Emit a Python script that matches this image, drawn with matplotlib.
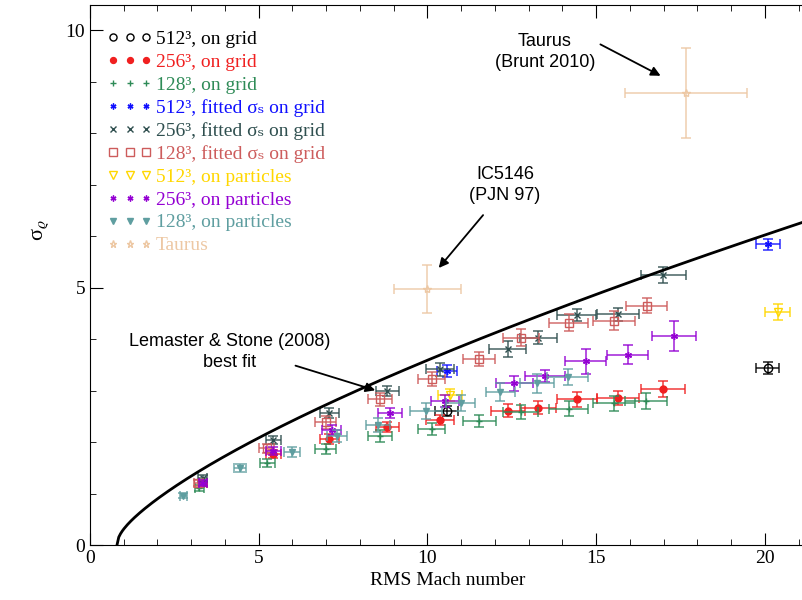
import numpy as np
import matplotlib
matplotlib.use("Agg")
import matplotlib.pyplot as plt
from matplotlib.ticker import MultipleLocator

plt.rcParams['font.family'] = ['Liberation Serif', 'DejaVu Serif']
plt.rcParams['mathtext.fontset'] = 'stix'

# 512^3 on grid
grid512_M = [10.57, 20.08]
grid512_s = [2.60, 3.44]
grid512_xe = [0.34, 0.34]
grid512_ye = [0.10, 0.11]

# 256^3 on grid
grid256_M = [3.35, 5.43, 7.09, 8.81, 10.38, 12.39, 13.28, 14.44, 15.65, 16.99]
grid256_s = [1.20, 1.77, 2.06, 2.29, 2.43, 2.61, 2.67, 2.83, 2.85, 3.03]
grid256_xe = [0.13, 0.22, 0.28, 0.35, 0.42, 0.50, 0.53, 0.59, 0.62, 0.65]
grid256_ye = [0.05, 0.08, 0.10, 0.10, 0.10, 0.12, 0.12, 0.14, 0.14, 0.15]

# 128^3 on grid
grid128_M = [3.24, 5.25, 6.98, 8.59, 10.12, 11.53, 12.76, 14.19, 15.53, 16.47]
grid128_s = [1.10, 1.59, 1.86, 2.12, 2.25, 2.41, 2.58, 2.65, 2.75, 2.80]
grid128_xe = [0.14, 0.22, 0.30, 0.36, 0.40, 0.49, 0.52, 0.58, 0.62, 0.63]
grid128_ye = [0.06, 0.08, 0.10, 0.11, 0.12, 0.12, 0.13, 0.14, 0.15, 0.15]

# 512^3 fitted sigma_s on grid
fit512_M = [10.57, 20.08]
fit512_s = [3.38, 5.84]
fit512_xe = [0.30, 0.35]
fit512_ye = [0.12, 0.10]

# 256^3 fitted sigma_s on grid
fit256_M = [3.34, 5.43, 7.09, 8.81, 10.37, 12.38, 13.28, 14.42, 15.65, 16.99]
fit256_s = [1.30, 2.04, 2.56, 2.99, 3.41, 3.81, 4.03, 4.47, 4.48, 5.24]
fit256_xe = [0.14, 0.22, 0.28, 0.35, 0.42, 0.55, 0.55, 0.58, 0.62, 0.66]
fit256_ye = [0.06, 0.08, 0.10, 0.10, 0.12, 0.15, 0.12, 0.12, 0.13, 0.16]

# 128^3 fitted sigma_s on grid
fit128_M = [3.21, 5.24, 6.98, 8.59, 10.12, 11.53, 12.77, 14.19, 15.53, 16.49]
fit128_s = [1.21, 1.88, 2.38, 2.83, 3.22, 3.61, 4.03, 4.32, 4.36, 4.65]
fit128_xe = [0.14, 0.22, 0.30, 0.36, 0.40, 0.48, 0.52, 0.58, 0.62, 0.62]
fit128_ye = [0.06, 0.09, 0.12, 0.13, 0.14, 0.14, 0.16, 0.16, 0.18, 0.15]

# 512^3 on particles
part512_M = [10.67, 20.38]
part512_s = [2.91, 4.53]
part512_xe = [0.35, 0.37]
part512_ye = [0.12, 0.15]

# 256^3 on particles
part256_M = [3.35, 5.43, 7.16, 8.89, 10.52, 12.57, 13.48, 14.69, 15.93, 17.30]
part256_s = [1.20, 1.83, 2.23, 2.57, 2.80, 3.14, 3.28, 3.57, 3.70, 4.06]
part256_xe = [0.13, 0.22, 0.28, 0.35, 0.42, 0.55, 0.59, 0.61, 0.61, 0.65]
part256_ye = [0.06, 0.08, 0.10, 0.10, 0.12, 0.15, 0.12, 0.24, 0.18, 0.30]

# 128^3 on particles
part128_M = [2.77, 4.44, 5.98, 7.31, 8.54, 9.95, 10.98, 12.15, 13.24, 14.15]
part128_s = [0.96, 1.50, 1.81, 2.12, 2.33, 2.60, 2.76, 2.97, 3.14, 3.26]
part128_xe = [0.11, 0.18, 0.24, 0.30, 0.35, 0.48, 0.42, 0.43, 0.50, 0.62]
part128_ye = [0.05, 0.08, 0.10, 0.12, 0.14, 0.15, 0.16, 0.18, 0.18, 0.15]

# observations (IC5146, Taurus)
obs_M = [10.0, 17.66]
obs_s = [4.97, 8.78]
obs_xe = [1.0, 1.8]
obs_ye = [0.47, 0.87]

# Lemaster & Stone (2008): sigma_s^2 = a ln(1 + b M^2) + c
ls_a, ls_b, ls_c = 0.72, 0.5, -0.20

fs = 'σₛ'
series = [
    (grid512_M, grid512_s, grid512_xe, grid512_ye, 'black', 'o', 'none', '512³, on grid'),
    (grid256_M, grid256_s, grid256_xe, grid256_ye, '#f02020', 'o', 'full', '256³, on grid'),
    (grid128_M, grid128_s, grid128_xe, grid128_ye, '#2e8b57', '+', 'full', '128³, on grid'),
    (fit512_M, fit512_s, fit512_xe, fit512_ye, '#1010ff', (6, 2, 0), 'full', '512³, fitted ' + fs + ' on grid'),
    (fit256_M, fit256_s, fit256_xe, fit256_ye, '#2f4f4f', 'x', 'full', '256³, fitted ' + fs + ' on grid'),
    (fit128_M, fit128_s, fit128_xe, fit128_ye, '#cd5c5c', 's', 'none', '128³, fitted ' + fs + ' on grid'),
    (part512_M, part512_s, part512_xe, part512_ye, '#ffd700', 'v', 'none', '512³, on particles'),
    (part256_M, part256_s, part256_xe, part256_ye, '#9400d3', (6, 2, 0), 'full', '256³, on particles'),
    (part128_M, part128_s, part128_xe, part128_ye, '#5f9ea0', 'v', 'full', '128³, on particles'),
    (obs_M, obs_s, obs_xe, obs_ye, '#edc8a4', '*', 'none', 'Taurus'),
]

fig = plt.figure(figsize=(8.03, 6.0), dpi=100)
ax = fig.add_axes([90 / 803, 55 / 600, 716 / 803, 540 / 600])

for M, s, xe, ye, col, mk, fill, lab in series:
    ax.errorbar(M, s, xerr=xe, yerr=ye, fmt='none', ecolor=col, elinewidth=1.3,
                capsize=3.5, capthick=1.3, alpha=0.75)
    if fill == 'none':
        ax.plot(M, s, ls='none', marker=mk, mfc='none', mec=col, mew=1.0, ms=6, label=lab)
    else:
        ax.plot(M, s, ls='none', marker=mk, color=col, mew=1.0, ms=5, label=lab)

Mfit = np.linspace(0.8, 21.5, 400)
arg = ls_a * np.log(1 + ls_b * Mfit ** 2) + ls_c
sig_rho = np.sqrt(np.clip(np.exp(arg) - 1, 0, None))
ax.plot(Mfit, sig_rho, color='black', lw=2)

sans = ['Liberation Sans', 'DejaVu Sans']
ax.text(13.48, 9.57, 'Taurus\n(Brunt 2010)', ha='center', va='center', fontsize=13,
        family=sans, linespacing=1.3)
ax.annotate('', xy=(16.98, 9.09), xytext=(15.05, 9.75),
            arrowprops=dict(arrowstyle='-|>', color='black', lw=1.3, mutation_scale=14))
ax.text(12.30, 6.99, 'IC5146\n(PJN 97)', ha='center', va='center', fontsize=13,
        family=sans, linespacing=1.3)
ax.annotate('', xy=(10.28, 5.34), xytext=(11.70, 6.45),
            arrowprops=dict(arrowstyle='-|>', color='black', lw=1.3, mutation_scale=14))
ax.text(4.15, 3.75, 'Lemaster & Stone (2008)\nbest fit', ha='center', va='center',
        fontsize=13, family=sans, linespacing=1.3)
ax.annotate('', xy=(8.53, 2.99), xytext=(6.01, 3.50),
            arrowprops=dict(arrowstyle='-|>', color='black', lw=1.3, mutation_scale=14))

ax.set_xlim(0, 716 / 33.75)
ax.set_ylim(0, 10.49)
ax.xaxis.set_major_locator(MultipleLocator(5))
ax.xaxis.set_minor_locator(MultipleLocator(1))
ax.yaxis.set_major_locator(MultipleLocator(5))
ax.yaxis.set_minor_locator(MultipleLocator(1))
ax.tick_params(which='both', direction='in', top=True, right=False, labelsize=14)
ax.tick_params(which='major', length=9)
ax.tick_params(which='minor', length=4.5)
ax.set_xlabel('RMS Mach number', fontsize=14)
ax.set_ylabel(r'σ$_\varrho$', fontsize=16, rotation=90)
ax.yaxis.set_label_coords(-0.055, 0.583)

leg = ax.legend(loc='upper left', bbox_to_anchor=(0.008, 0.975), frameon=False, numpoints=3,
                fontsize=14, handlelength=2.3, handletextpad=0.2, labelspacing=0.27,
                markerscale=0.85, borderaxespad=0.2)
for txt, item in zip(leg.get_texts(), series):
    txt.set_color(item[4])

fig.savefig('out.png', dpi=100)
